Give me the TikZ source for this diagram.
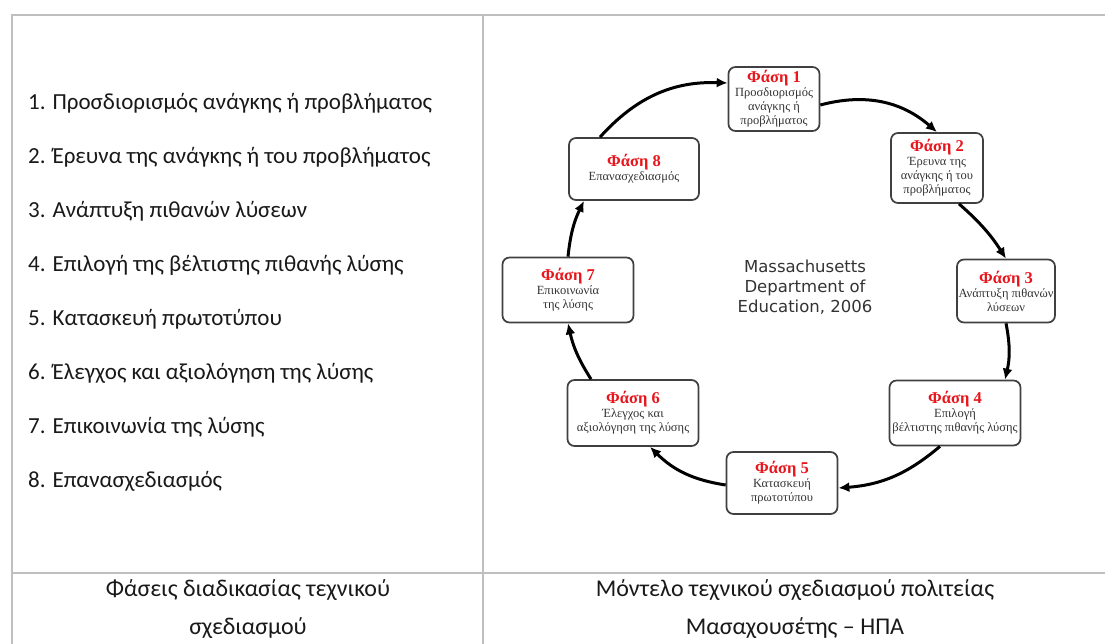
\documentclass[tikz,border=0pt]{standalone}
\usepackage{fontspec}
\setmainfont{Carlito}
\newfontfamily\phasefont{Liberation Serif}
\newfontfamily\notefont{DejaVu Sans}
\usepackage{tikz}
\usetikzlibrary{calc,arrows.meta}

\definecolor{gridgray}{HTML}{BFBFBF}
\definecolor{phasered}{HTML}{E8151B}

\tikzset{
  phasebox/.style={draw=black!75, line width=1.7pt, rounded corners=7pt, fill=white, align=center,
    font=\phasefont\fontsize{12.5}{14}\selectfont, text=black!80, inner sep=1pt},
  listitem/.style={anchor=west, font=\fontsize{23}{26}\selectfont, text=black!90, inner sep=0pt},
  caption/.style={align=center, font=\fontsize{24}{38}\selectfont, text=black!90, inner sep=0pt},
  flow/.style={line width=3pt, -{Latex[length=11pt,width=10pt]}}
}
\newcommand{\phasetitle}[1]{{\color{phasered}\bfseries\fontsize{16.5}{18}\selectfont Φάση #1}\\}

\begin{document}
\begin{tikzpicture}[x=1pt, y=-1pt]

        \useasboundingbox (0,0) rectangle (1105,644);

        % table
        \draw[gridgray, line width=1.5pt] (12,644) coordinate(bl) -- (12,15) coordinate(tl) -- (1105,15) coordinate(tr);
        \draw[gridgray, line width=1.5pt] (483,15) coordinate(mt) -- (483,644) coordinate(mb);
        \draw[gridgray, line width=1.5pt] (12,573) coordinate(ml) -- (1105,573) coordinate(mr);

        % left column
        \node[listitem] (l1) at (28,103) {1. Προσδιορισμός ανάγκης ή προβλήματος};
        \node[listitem] (l2) at (28,157) {2. Έρευνα της ανάγκης ή του προβλήματος};
        \node[listitem] (l3) at (28,211) {3. Ανάπτυξη πιθανών λύσεων};
        \node[listitem] (l4) at (28,265) {4. Επιλογή της βέλτιστης πιθανής λύσης};
        \node[listitem] (l5) at (28,319) {5. Κατασκευή πρωτοτύπου};
        \node[listitem] (l6) at (28,373) {6. Έλεγχος και αξιολόγηση της λύσης};
        \node[listitem] (l7) at (28,427) {7. Επικοινωνία της λύσης};
        \node[listitem] (l8) at (28,481) {8. Επανασχεδιασμός};

        \node[caption] (capl) at (248,609) {Φάσεις διαδικασίας τεχνικού\\σχεδιασμού};
        \node[caption] (capr) at (795,609) {Μόντελο τεχνικού σχεδιασμού πολιτείας\\Μασαχουσέτης -- ΗΠΑ};

        % cycle
        \node[phasebox, minimum width=91, minimum height=64] (b1) at (774,99) {\phasetitle{1}Προσδιορισμός\\ανάγκης ή\\προβλήματος};
        \node[phasebox, minimum width=92, minimum height=70] (b2) at (937,168) {\phasetitle{2}Έρευνα της\\ανάγκης ή του\\προβλήματος};
        \node[phasebox, minimum width=98, minimum height=63] (b3) at (1006,291) {\phasetitle{3}Ανάπτυξη πιθανών\\λύσεων};
        \node[phasebox, minimum width=131, minimum height=65] (b4) at (955,413) {\phasetitle{4}Επιλογή\\βέλτιστης πιθανής λύσης};
        \node[phasebox, minimum width=111, minimum height=62] (b5) at (782,483) {\phasetitle{5}Κατασκευή\\πρωτοτύπου};
        \node[phasebox, minimum width=131, minimum height=66] (b6) at (633,413) {\phasetitle{6}Έλεγχος και\\αξιολόγηση της λύσης};
        \node[phasebox, minimum width=131, minimum height=65] (b7) at (568,290) {\phasetitle{7}Επικοινωνία\\της λύσης};
        \node[phasebox, minimum width=130, minimum height=62] (b8) at (634,169) {\phasetitle{8}Επανασχεδιασμός};

        \node[align=center, font=\notefont\fontsize{16.5}{20}\selectfont, text=black!80] (mass) at (805,287) {Massachusetts\\Department of\\Education, 2006};

        \draw[flow] ([yshift=-6pt]b1.east) to[bend left=28] (b2.north);
        \draw[flow] ([xshift=22pt]b2.south) to[bend left=8] (b3.north);
        \draw[flow] (b3.south) to[bend left=12] ([xshift=50pt]b4.north);
        \draw[flow] ([xshift=-15pt]b4.south) to[bend left=18] ([yshift=-5pt]b5.east);
        \draw[flow] ([yshift=-2pt]b5.west) to[bend left=18] ([xshift=17pt]b6.south);
        \draw[flow] ([xshift=-42pt]b6.north) to[bend left=10] (b7.south);
        \draw[flow] (b7.north) to[bend left=10] ([xshift=-50pt]b8.south);
        \draw[flow] ([xshift=-34pt]b8.north) to[bend left=25] ([yshift=16pt]b1.west);

    \end{tikzpicture}
\end{document}
